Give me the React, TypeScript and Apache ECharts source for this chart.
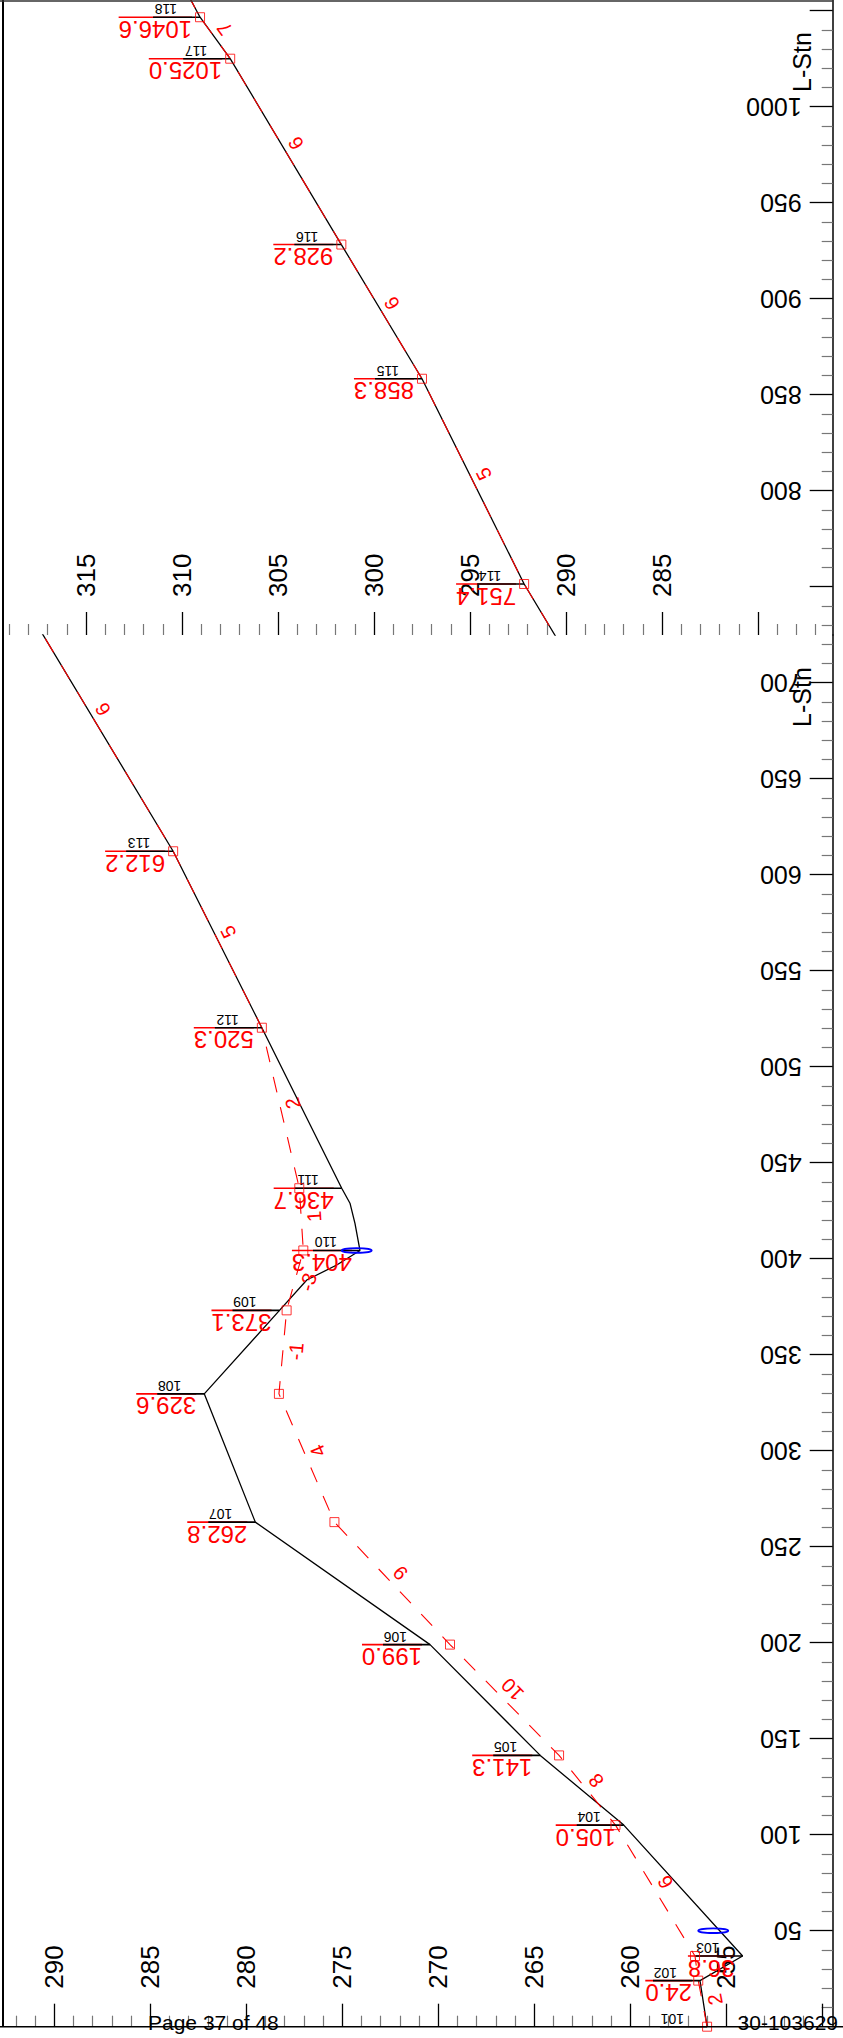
import React, { useEffect, useRef } from "react";
import * as echarts from "echarts";

// ---------- data ----------
const nodeIds = ["101", "102", "103", "104", "105", "106", "107", "108", "109", "110", "111", "112", "113", "114", "115", "116", "117", "118"];
const nodeStations = [0.0, 24.0, 36.8, 105.0, 141.3, 199.0, 262.8, 329.6, 373.1, 404.3, 436.7, 520.3, 612.2, 751.4, 858.3, 928.2, 1025.0, 1046.6];
// station texts printed at the nodes (the one of 101 falls off the page)
const nodeStationLabels = ["", "24.0", "36.8", "105.0", "141.3", "199.0", "262.8", "329.6", "373.1", "404.3", "436.7", "520.3", "612.2", "751.4", "858.3", "928.2", "1025.0", "1046.6"];
// black (ground) line elevation at each node
const groundNodeElev = [256.0, 256.37, 254.15, 260.34, 264.69, 270.43, 279.53, 282.19, 278.27, 274.08, 275.03, 279.19, 283.81, 292.18, 297.5, 301.7, 307.49, 309.06];
// extra vertices of the black line between nodes
const groundExtraStations = [388.9, 396.7, 418.4, 428.9, 1055.6];
const groundExtraElev = [276.85, 275.29, 274.34, 274.6, 309.54];
// red dashed profile elevation at each node
const profileNodeElev = [256.0, 256.46, 256.63, 260.77, 263.71, 269.39, 275.41, 278.3, 277.9, 277.03, 277.24, 279.19, 283.81, 292.18, 297.5, 301.7, 307.49, 309.06];
const profileEndStation = 1055.6;
const profileEndElev = 309.54;
// slope labels of the profile between consecutive nodes
const slopeLabels = ["2", "", "6", "8", "10", "9", "4", "-1", "-3", "1", "2", "5", "6", "5", "6", "6", "7"];
// blue structures
const structureStations = [50.0, 404.3];
const structureElev = [255.68, 274.25];

// axis ticks and labels
const topElevMajor = [280, 285, 290, 295, 300, 305, 310, 315];
const topElevLabels = [285, 290, 295, 300, 305, 310, 315];
const topStationMajor = [750, 800, 850, 900, 950, 1000, 1050];
const topStationLabels = [800, 850, 900, 950, 1000];
const botElevMajor = [250, 255, 260, 265, 270, 275, 280, 285, 290];
const botElevLabels = [255, 260, 265, 270, 275, 280, 285, 290];
const botStationMajor = [50, 100, 150, 200, 250, 300, 350, 400, 450, 500, 550, 600, 650, 700];
const botStationLabels = [50, 100, 150, 200, 250, 300, 350, 400, 450, 500, 550, 600, 650, 700];

// panel extents (break of the profile)
const SPLIT_STATION = 724.84;
const TOP_STATION_MAX = 1055.57;
const TOP_ELEV_MIN = 276.109;
const TOP_ELEV_MAX = 319.479;
const BOT_ELEV_MIN = 249.458;
const BOT_ELEV_MAX = 292.828;

const FONT = "'Liberation Sans', Arial, Helvetica, sans-serif";
const RED = "#ff0000";

function minorTicks(from: number, to: number, step: number, majorStep: number) {
  const out: number[] = [];
  for (let v = from; v <= to + 1e-9; v += step) {
    if (Math.abs(v / majorStep - Math.round(v / majorStep)) > 1e-6) out.push(v);
  }
  return out;
}

function textWidth(s: string, fs: number) {
  let w = 0;
  for (const ch of s) w += ch === "." ? 0.278 : ch === "-" ? 0.333 : 0.556;
  return w * fs;
}

export default function App() {
  const ref = useRef<HTMLDivElement>(null);
  useEffect(() => {
    document.body.style.margin = "0";
    document.body.style.overflow = "hidden";
    const chart = echarts.init(ref.current!, null, { renderer: "svg" });

    const groundPts: number[][] = [];
    nodeStations.forEach((s, i) => groundPts.push([groundNodeElev[i], s]));
    groundExtraStations.forEach((s, i) => groundPts.push([groundExtraElev[i], s]));
    groundPts.sort((a, b) => a[1] - b[1]);

    const profilePts: number[][] = nodeStations.map((s, i) => [profileNodeElev[i], s]);
    profilePts.push([profileEndElev, profileEndStation]);

    const inTop = (s: number) => s >= SPLIT_STATION;
    const plain = (v: number) => String(v);

    const elevAxis = (grid: number, min: number, max: number, major: number[], labels: number[]) => [
      {
        type: "value", gridIndex: grid, inverse: true, min, max, position: "bottom",
        axisLine: { show: false }, splitLine: { show: false },
        axisTick: { show: true, inside: true, length: 23, lineStyle: { color: "#000", width: 1.3 }, customValues: major },
        axisLabel: { show: true, inside: true, rotate: 90, margin: 38, fontSize: 26, color: "#000", fontFamily: FONT, customValues: labels, formatter: plain },
      },
      {
        type: "value", gridIndex: grid, inverse: true, min, max, position: "bottom",
        axisLine: { show: false }, splitLine: { show: false },
        axisTick: { show: true, inside: true, length: 11, lineStyle: { color: "#777", width: 1.2 }, customValues: minorTicks(Math.ceil(min), Math.floor(max), 1, 5) },
        axisLabel: { show: false },
      },
    ];
    const stnAxis = (grid: number, min: number, max: number, major: number[], labels: number[]) => [
      {
        type: "value", gridIndex: grid, min, max, position: "right",
        axisLine: { show: true, lineStyle: { color: "#000", width: 1.5 } }, splitLine: { show: false },
        axisTick: { show: true, inside: true, length: 23, lineStyle: { color: "#000", width: 1.3 }, customValues: major },
        axisLabel: { show: true, inside: true, rotate: 180, margin: 31, fontSize: 25, color: "#000", fontFamily: FONT, customValues: labels, formatter: plain },
      },
      {
        type: "value", gridIndex: grid, min, max, position: "right",
        axisLine: { show: false }, splitLine: { show: false },
        axisTick: { show: true, inside: true, length: 11, lineStyle: { color: "#777", width: 1.2 }, customValues: minorTicks(Math.ceil(min / 10) * 10, Math.floor(max / 10) * 10, 10, 50) },
        axisLabel: { show: false },
      },
    ];

    const panelSeries = (xi: number, yi: number, top: boolean) => {
      const sel = (s: number) => (top ? inTop(s) : !inTop(s));
      const nodeData = nodeStations.map((s, i) => [groundNodeElev[i], s, i]).filter((d) => sel(d[1]));
      const squares = nodeStations.map((s, i) => [profileNodeElev[i], s]).filter((d) => sel(d[1]));
      const segs: number[][] = [];
      for (let i = 0; i < nodeStations.length - 1; i++) {
        if (!slopeLabels[i]) continue;
        const mid = (nodeStations[i] + nodeStations[i + 1]) / 2;
        if (sel(mid)) segs.push([profileNodeElev[i], nodeStations[i], profileNodeElev[i + 1], nodeStations[i + 1], i]);
      }
      const structs = structureStations.map((s, i) => [structureElev[i], s]).filter((d) => sel(d[1]));
      return [
        {
          type: "line", xAxisIndex: xi, yAxisIndex: yi, data: groundPts, symbol: "none", clip: true,
          lineStyle: { color: "#000", width: 1.3 }, z: 2,
        },
        {
          type: "line", xAxisIndex: xi, yAxisIndex: yi, data: profilePts, symbol: "none", clip: true,
          lineStyle: { color: RED, width: 1.1, type: [16, 15] }, z: 3,
        },
        {
          type: "custom", xAxisIndex: xi, yAxisIndex: yi, data: nodeData, encode: { x: 0, y: 1 }, z: 4,
          renderItem: (params: any, api: any) => {
            const i = api.value(2);
            const p = api.coord([api.value(0), api.value(1)]);
            const vx = p[0], vy = p[1];
            const st = nodeStationLabels[i];
            const w = textWidth(st, 24);
            const children: any[] = [];
            if (st) children.push({ type: "line", shape: { x1: vx - 8 - w, y1: vy, x2: vx - 8, y2: vy }, style: { stroke: RED, lineWidth: 1.6 } });
            children.push({ type: "line", shape: { x1: vx - 47, y1: vy, x2: vx, y2: vy }, style: { stroke: "#000", lineWidth: 1.6 } });
            if (st)
              children.push({
                type: "text", x: vx - 8, y: vy + 12, rotation: Math.PI,
                style: { text: st, fill: RED, fontSize: 24, fontFamily: FONT, align: "left", verticalAlign: "middle" },
              });
            children.push({
              type: "text", x: vx - 23, y: vy - 8, rotation: Math.PI,
              style: { text: nodeIds[i], fill: "#000", fontSize: 14, fontFamily: FONT, align: "left", verticalAlign: "middle" },
            });
            return { type: "group", children };
          },
        },
        {
          type: "scatter", xAxisIndex: xi, yAxisIndex: yi, data: squares, symbol: "rect", symbolSize: 9, clip: false, z: 5,
          itemStyle: { color: "rgba(255,255,255,0)", borderColor: RED, borderWidth: 1 },
        },
        {
          type: "custom", xAxisIndex: xi, yAxisIndex: yi, data: segs, encode: { x: [0, 2], y: [1, 3] }, z: 6,
          renderItem: (params: any, api: any) => {
            const i = api.value(4);
            const p1 = api.coord([api.value(0), api.value(1)]);
            const p2 = api.coord([api.value(2), api.value(3)]);
            const dx = p2[0] - p1[0], dy = p2[1] - p1[1];
            const len = Math.hypot(dx, dy) || 1;
            const ux = dx / len, uy = dy / len;
            const mx = (p1[0] + p2[0]) / 2 + 13 * -uy + 2 * ux;
            const my = (p1[1] + p2[1]) / 2 + 13 * ux + 2 * uy;
            return {
              type: "text", x: mx, y: my, rotation: Math.atan2(-dy, dx),
              style: { text: slopeLabels[i], fill: RED, fontSize: 20, fontFamily: FONT, align: "center", verticalAlign: "middle" },
            };
          },
        },
        {
          type: "custom", xAxisIndex: xi, yAxisIndex: yi, data: structs, encode: { x: 0, y: 1 }, z: 7,
          renderItem: (params: any, api: any) => {
            const p = api.coord([api.value(0), api.value(1)]);
            return {
              type: "ellipse", shape: { cx: p[0], cy: p[1], rx: 15, ry: 2.3 },
              style: { fill: "none", stroke: "#0000ff", lineWidth: 1.8 },
            };
          },
        },
      ];
    };

    const option: any = {
      animation: false,
      backgroundColor: "#fff",
      grid: [
        { left: 0, top: 0, width: 832.7, height: 635 },
        { left: 0, top: 635, width: 832.7, height: 1391.7 },
      ],
      xAxis: [
        ...elevAxis(0, TOP_ELEV_MIN, TOP_ELEV_MAX, topElevMajor, topElevLabels),
        ...elevAxis(1, BOT_ELEV_MIN, BOT_ELEV_MAX, botElevMajor, botElevLabels),
      ],
      yAxis: [
        ...stnAxis(0, SPLIT_STATION, TOP_STATION_MAX, topStationMajor, topStationLabels),
        ...stnAxis(1, 0, SPLIT_STATION, botStationMajor, botStationLabels),
      ],
      series: [...panelSeries(0, 0, true), ...panelSeries(2, 2, false)],
      graphic: [
        { type: "line", shape: { x1: 3, y1: 0, x2: 3, y2: 2027 }, style: { stroke: "#000", lineWidth: 2 }, z: 10 },
        { type: "line", shape: { x1: 0, y1: 1, x2: 833, y2: 1 }, style: { stroke: "#333", lineWidth: 1.5 }, z: 10 },
        { type: "line", shape: { x1: 0, y1: 2026.7, x2: 843, y2: 2026.7 }, style: { stroke: "#000", lineWidth: 1.5 }, z: 10 },
        {
          type: "text", x: 802, y: 62, rotation: Math.PI / 2, z: 10,
          style: { text: "L-Stn", fill: "#000", fontSize: 25, fontFamily: FONT, align: "center", verticalAlign: "middle" },
        },
        {
          type: "text", x: 802, y: 697, rotation: Math.PI / 2, z: 10,
          style: { text: "L-Stn", fill: "#000", fontSize: 25, fontFamily: FONT, align: "center", verticalAlign: "middle" },
        },
        {
          type: "text", x: 148, y: 2022.7, z: 10,
          style: { text: "Page 37 of 48", fill: "#000", fontSize: 21, fontFamily: FONT, align: "left", verticalAlign: "middle" },
        },
        {
          type: "text", x: 838, y: 2022.7, z: 10,
          style: { text: "30-103629", fill: "#000", fontSize: 21, fontFamily: FONT, align: "right", verticalAlign: "middle" },
        },
      ],
    };
    chart.setOption(option);
    return () => chart.dispose();
  }, []);
  return <div ref={ref} style={{ position: "absolute", left: 0, top: 0, width: 843, height: 2038, background: "#fff" }} />;
}
